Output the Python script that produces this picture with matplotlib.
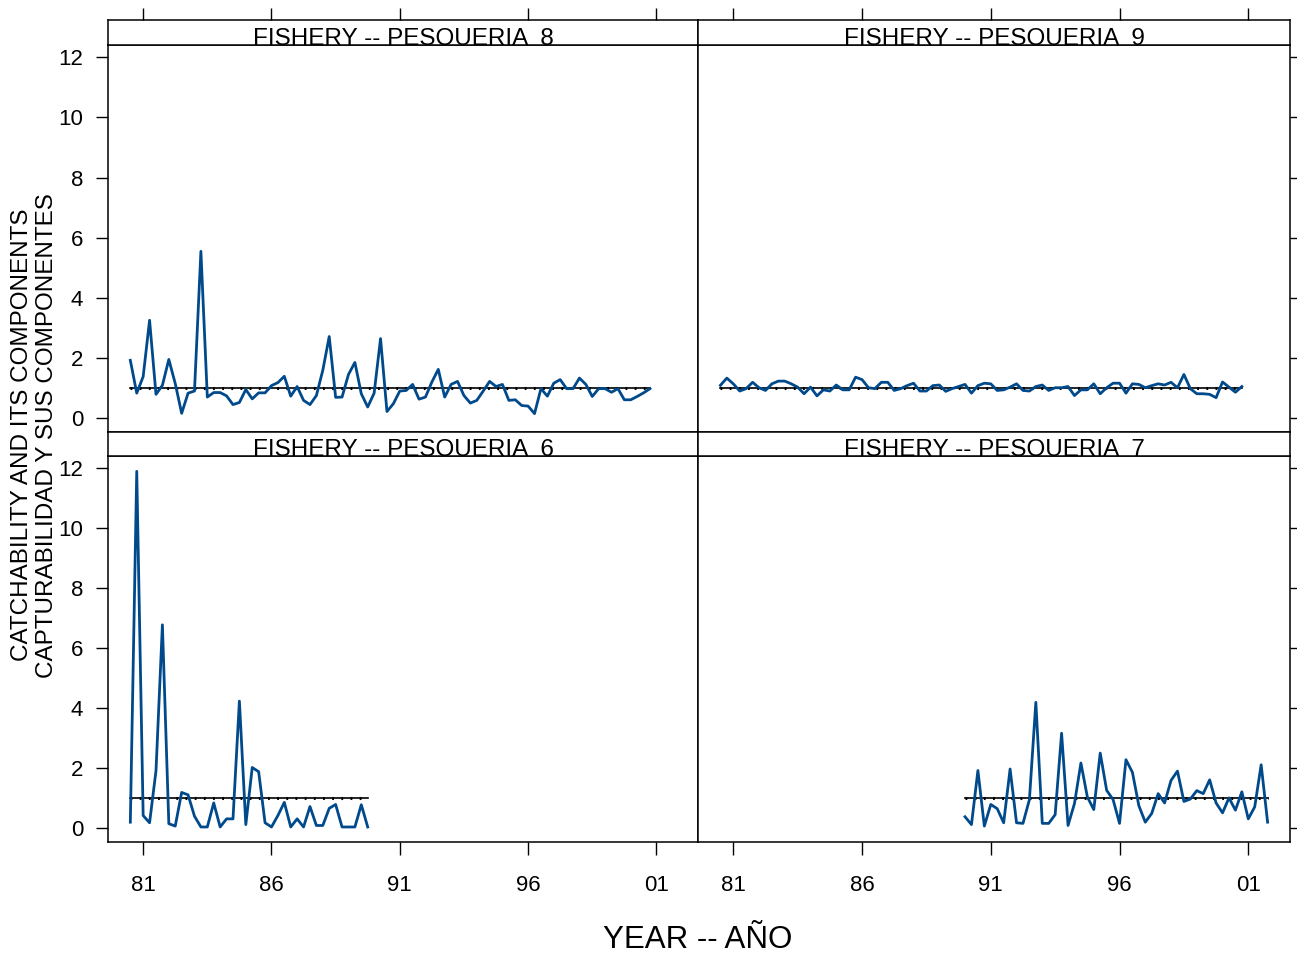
import matplotlib
matplotlib.use("Agg")
import matplotlib.pyplot as plt
import numpy as np

plt.rcParams['font.family'] = ['Liberation Sans', 'DejaVu Sans']

# quarterly catchability values
start_8 = 80.5
q_8 = [1.93, 0.84, 1.39, 3.26, 0.80, 1.10, 1.96, 1.16, 0.17, 0.84, 0.91, 5.55,
       0.71, 0.86, 0.86, 0.75, 0.46, 0.53, 0.96, 0.65, 0.85, 0.85, 1.09, 1.19,
       1.40, 0.74, 1.06, 0.60, 0.46, 0.76, 1.60, 2.72, 0.70, 0.71, 1.46, 1.86,
       0.82, 0.38, 0.84, 2.65, 0.23, 0.49, 0.91, 0.93, 1.13, 0.64, 0.71, 1.21,
       1.63, 0.71, 1.13, 1.23, 0.76, 0.51, 0.60, 0.91, 1.23, 1.06, 1.13, 0.60,
       0.62, 0.43, 0.41, 0.16, 0.99, 0.74, 1.17, 1.29, 0.99, 0.99, 1.34, 1.13,
       0.73, 0.99, 0.99, 0.87, 0.99, 0.62, 0.62, 0.73, 0.85, 0.99]

start_9 = 80.5
q_9 = [1.10, 1.34, 1.15, 0.91, 0.99, 1.20, 1.02, 0.93, 1.15, 1.24, 1.24, 1.15,
       1.04, 0.82, 1.04, 0.75, 0.95, 0.91, 1.11, 0.95, 0.95, 1.37, 1.29, 1.02,
       0.99, 1.20, 1.20, 0.93, 0.99, 1.09, 1.17, 0.91, 0.91, 1.09, 1.11, 0.90,
       0.99, 1.06, 1.13, 0.84, 1.09, 1.17, 1.15, 0.93, 0.95, 1.04, 1.15, 0.93,
       0.91, 1.06, 1.11, 0.93, 1.02, 1.02, 1.06, 0.76, 0.95, 0.95, 1.15, 0.82,
       1.02, 1.17, 1.17, 0.84, 1.15, 1.13, 1.02, 1.09, 1.15, 1.11, 1.20, 1.02,
       1.46, 0.99, 0.82, 0.82, 0.80, 0.69, 1.21, 1.04, 0.87, 1.06]

start_6 = 80.5
q_6 = [0.21, 11.89, 0.43, 0.19, 1.92, 6.78, 0.16, 0.08, 1.20, 1.12, 0.41, 0.05,
       0.05, 0.85, 0.05, 0.32, 0.32, 4.24, 0.13, 2.03, 1.89, 0.19, 0.05, 0.43,
       0.87, 0.05, 0.32, 0.05, 0.73, 0.10, 0.10, 0.67, 0.80, 0.05, 0.05, 0.05,
       0.79, 0.05]

start_7 = 90.0
q_7 = [0.39, 0.13, 1.93, 0.08, 0.80, 0.66, 0.19, 1.98, 0.19, 0.17, 0.96, 4.20,
       0.17, 0.17, 0.46, 3.17, 0.10, 0.83, 2.18, 1.05, 0.63, 2.51, 1.27, 0.96,
       0.17, 2.29, 1.87, 0.76, 0.21, 0.50, 1.16, 0.85, 1.60, 1.91, 0.90, 0.98,
       1.26, 1.16, 1.62, 0.85, 0.52, 1.02, 0.61, 1.22, 0.32, 0.72, 2.12, 0.21]

year_ticks = [81, 86, 91, 96, 101]
year_labels = ['81', '86', '91', '96', '01']
y_ticks = [0, 2, 4, 6, 8, 10, 12]

W, H = 1297, 955
fig = plt.figure(figsize=(W / 100, H / 100), dpi=100)


def rect(x0, y0, x1, y1):
    return [x0 / W, 1 - y1 / H, (x1 - x0) / W, (y1 - y0) / H]


line_col = '#004a8c'
xlim = (79.63, 102.62)

panels = [
    ('FISHERY -- PESQUERIA  8', start_8, q_8, (108, 45, 698, 432), 'TL'),
    ('FISHERY -- PESQUERIA  9', start_9, q_9, (698, 45, 1290, 432), 'TR'),
    ('FISHERY -- PESQUERIA  6', start_6, q_6, (108, 456, 698, 842), 'BL'),
    ('FISHERY -- PESQUERIA  7', start_7, q_7, (698, 456, 1290, 842), 'BR'),
]

for title, start, vals, (x0, y0, x1, y1), pos in panels:
    ax = fig.add_axes(rect(x0, y0, x1, y1))
    yrs = start + 0.25 * np.arange(len(vals))
    ax.plot([yrs[0], yrs[-1]], [1, 1], color='black', lw=1.2, zorder=2)
    ax.plot([yrs[0], yrs[-1]], [1, 1], color='black', lw=2.2,
            ls=(0, (0.6, 2.4)), zorder=2)
    ax.plot(yrs, vals, color=line_col, lw=2.0, zorder=3)
    ax.set_xlim(*xlim)
    ax.set_ylim(-0.45, 12.4)
    for s in ax.spines.values():
        s.set_linewidth(1.1)

    # y ticks
    ax.set_yticks(y_ticks)
    if pos in ('TL', 'BL'):
        ax.tick_params(axis='y', left=True, right=False, labelleft=True,
                       direction='out', length=9, width=1, pad=9, labelsize=16)
    else:
        ax.tick_params(axis='y', left=False, right=True, labelleft=False,
                       labelright=False, direction='out', length=9, width=1)

    # x ticks
    ax.set_xticks(year_ticks)
    if pos in ('BL', 'BR'):
        ax.set_xticklabels(year_labels)
        ax.tick_params(axis='x', bottom=True, top=False, direction='out',
                       length=9, width=1, pad=15, labelsize=16)
    else:
        ax.tick_params(axis='x', bottom=False, top=False, labelbottom=False)

    # strip
    sy0 = y0 - 25 if pos in ('TL', 'TR') else y0 - 24
    sx = fig.add_axes(rect(x0, sy0, x1, y0))
    sx.set_xlim(*xlim)
    sx.set_ylim(0, 1)
    sx.set_yticks([])
    for s in sx.spines.values():
        s.set_linewidth(1.1)
    if pos in ('TL', 'TR'):
        sx.set_xticks(year_ticks)
        sx.tick_params(axis='x', bottom=False, top=True, labelbottom=False,
                       labeltop=False, direction='out', length=9, width=1)
    else:
        sx.set_xticks([])
    sx.text(0.5, -0.2, title, transform=sx.transAxes, ha='center',
            va='bottom', fontsize=17.5, clip_on=True)

fig.text(22 / W, 1 - 435 / H, 'CATCHABILITY AND ITS COMPONENTS', rotation=90,
         ha='center', va='center', fontsize=17.5)
fig.text(47 / W, 1 - 436 / H, 'CAPTURABILIDAD Y SUS COMPONENTES', rotation=90,
         ha='center', va='center', fontsize=17.5)
fig.text(698 / W, 1 - 940 / H, 'YEAR -- AÑO', ha='center', va='center',
         fontsize=22.5)

fig.savefig('out.png', dpi=100)
